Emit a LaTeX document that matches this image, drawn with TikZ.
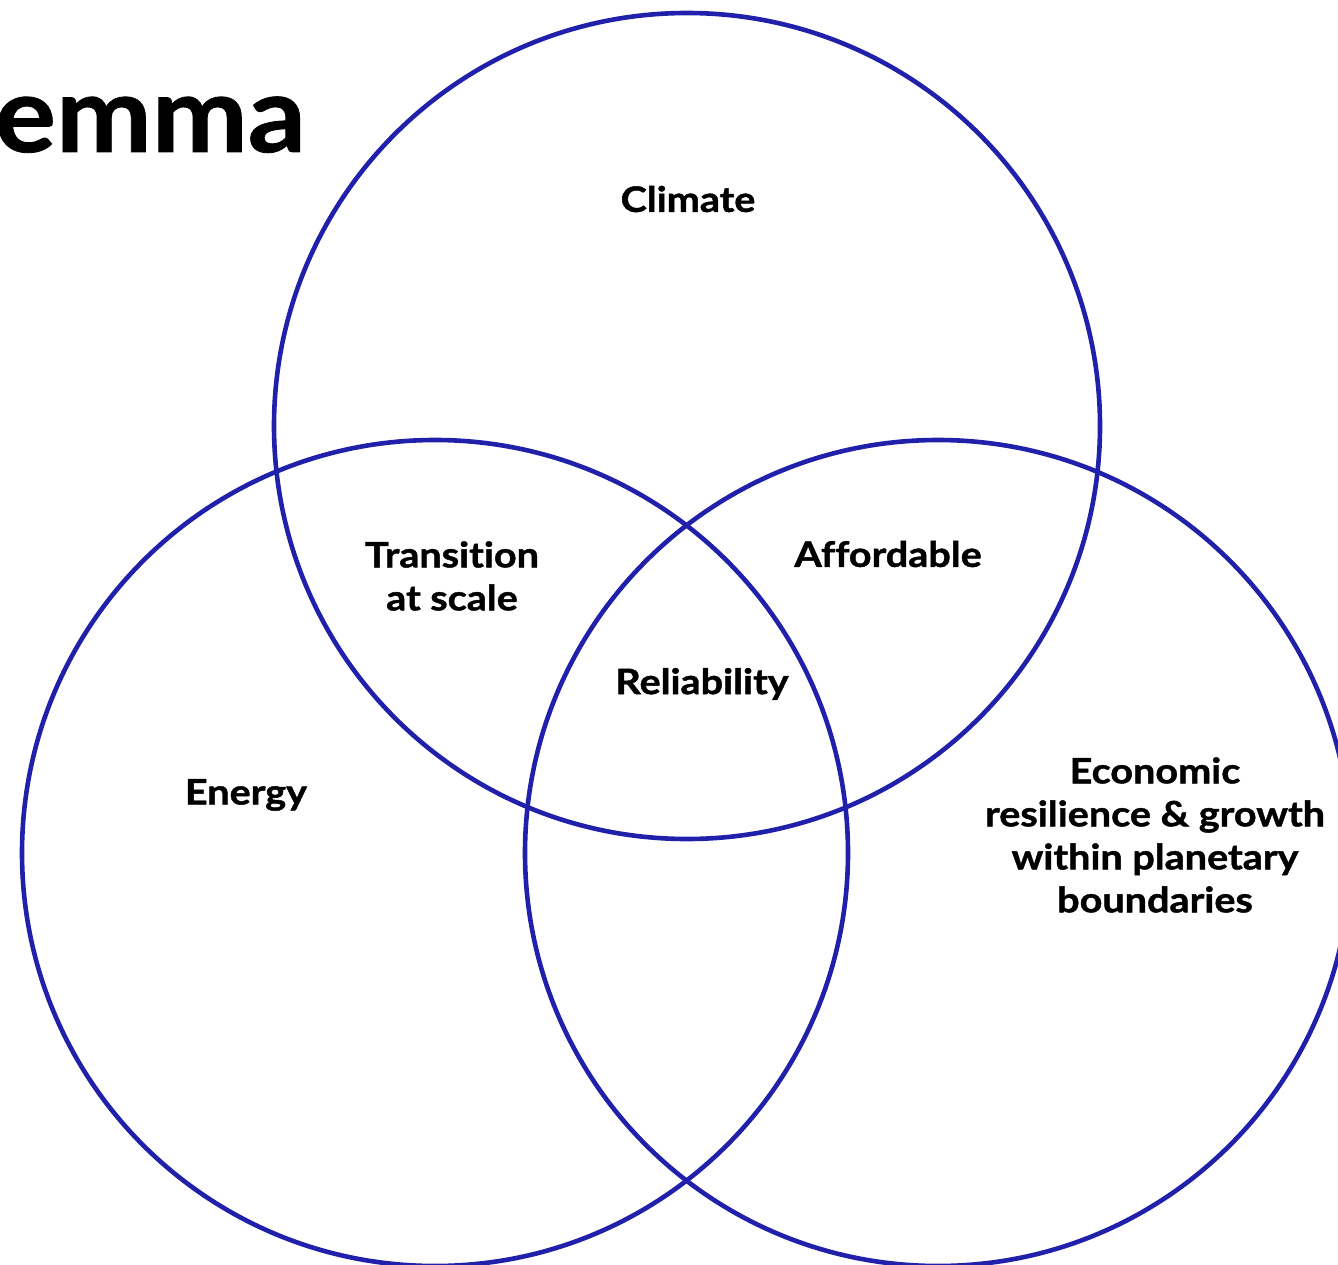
\documentclass[tikz,border=0pt]{standalone}
\usepackage{fontspec}
\setmainfont{Lato}
\newfontfamily\labfont{Lato}[Ligatures=NoCommon, BoldFeatures={FakeStretch=1.13, FakeBold=1.3}]
\newfontfamily\titlefont{Lato}[Ligatures=NoCommon, BoldFeatures={FakeStretch=1.08, FakeBold=0.8}]
\definecolor{vblue}{RGB}{32,32,170}
\begin{document}
\begin{tikzpicture}[x=1pt,y=-1pt,
  circ/.style={circle, draw=vblue, line width=4.6pt, inner sep=0pt, minimum size=826pt},
  lab/.style={font=\labfont\bfseries\fontsize{35}{43}\selectfont, align=center, text=black, inner sep=0pt}]
\useasboundingbox (0,0) rectangle (1338,1265);
\fill[white] (0,0) rectangle (1338,1265);
\begin{scope}
\clip (0,0) rectangle (1338,1265);
\node[circ] (ctop) at (687,426) {};
\node[circ] (cleft) at (435,853) {};
\node[circ] (cright) at (938,853) {};
\node[font=\titlefont\bfseries\fontsize{106}{106}\selectfont, anchor=base east, inner sep=0pt] (title) at (306,152) {emma};
\end{scope}
\node[lab] (climate) at (688,199) {Climate};
\node[lab] (trans) at (452,576) {Transition\\at scale};
\node[lab] (afford) at (888,554) {Affordable};
\node[lab] (reli) at (702,684) {Reliability};
\node[lab] (energy) at (246,795) {Energy};
\node[lab] (econ) at (1155,835) {Economic\\resilience \& growth\\within planetary\\boundaries};
\end{tikzpicture}
\end{document}
